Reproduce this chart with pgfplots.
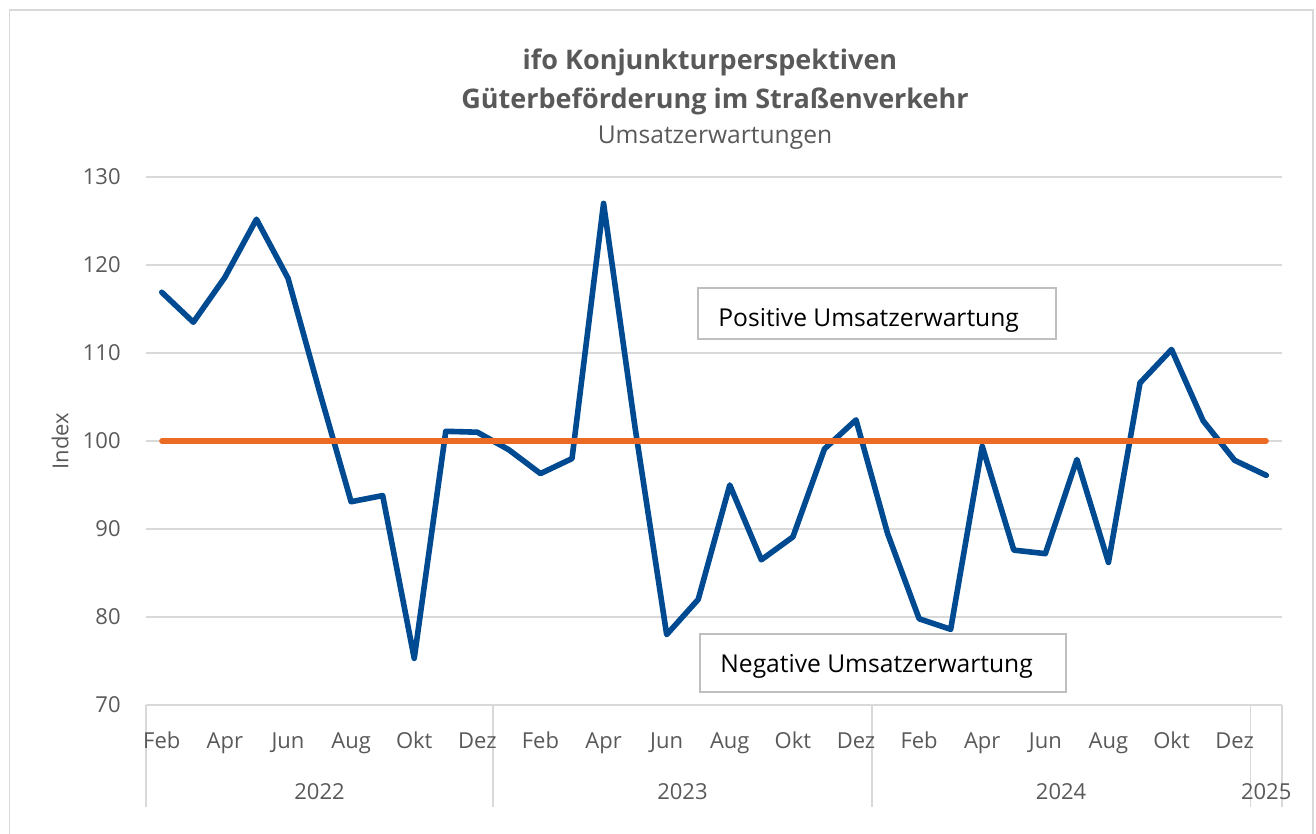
\documentclass[border=0pt]{standalone}
\usepackage{pgfplots}
\pgfplotsset{compat=1.18}
\usepackage{pgfplotstable}
\usepackage{fontspec}
\setmainfont{Open Sans}
\definecolor{lineblue}{HTML}{004A91}
\definecolor{lineorange}{HTML}{EB6B25}
\definecolor{gridgray}{HTML}{D9D9D9}
\definecolor{textgray}{HTML}{595959}
\definecolor{boxgray}{HTML}{BFBFBF}
\pgfplotstableread{
x y
0 116.9
1 113.5
2 118.6
3 125.2
4 118.5
5 105.6
6 93.1
7 93.8
8 75.3
9 101.1
10 101.0
11 99.0
12 96.3
13 98.0
14 127.0
15 101.5
16 78.0
17 82.0
18 95.0
19 86.5
20 89.1
21 99.1
22 102.4
23 89.5
24 79.8
25 78.6
26 99.4
27 87.6
28 87.2
29 97.9
30 86.2
31 106.6
32 110.4
33 102.3
34 97.8
35 96.1
}\idx
\begin{document}
\begin{tikzpicture}
\path[use as bounding box] (0,0) rectangle (658pt,417pt);
\draw[gridgray, line width=0.75pt] (4.75pt,-5pt) rectangle (656.5pt,412pt);
% category group separators below the axis (drawn first, under the labels)
\draw[gridgray, line width=0.75pt] (73pt,64.5pt) -- (73pt,13.5pt);
\draw[gridgray, line width=0.75pt] (246.56pt,64.5pt) -- (246.56pt,13.5pt);
\draw[gridgray, line width=0.75pt] (435.89pt,64.5pt) -- (435.89pt,13.5pt);
\draw[gridgray, line width=0.75pt] (625.22pt,64.5pt) -- (625.22pt,13.5pt);
\draw[gridgray, line width=0.75pt] (641pt,64.5pt) -- (641pt,13.5pt);
\begin{axis}[
  at={(73pt,64.5pt)}, anchor=south west,
  scale only axis, width=568pt, height=264pt,
  xmin=-0.5, xmax=35.5, ymin=70, ymax=130,
  ytick={70,80,...,130},
  xtick={0,2,...,34},
  xticklabels={Feb,Apr,Jun,Aug,Okt,Dez,Feb,Apr,Jun,Aug,Okt,Dez,Feb,Apr,Jun,Aug,Okt,Dez},
  axis x line*=bottom, axis y line*=left,
  x axis line style={draw=gridgray, line width=0.75pt, -},
  y axis line style={draw=none, -},
  major tick length=0pt,
  ymajorgrids, grid style={gridgray, line width=0.75pt},
  tick label style={font=\fontsize{11}{13}\selectfont, text=textgray},
  xticklabel style={anchor=base, yshift=-22pt},
  yticklabel style={anchor=east, inner sep=0pt, xshift=-12.5pt},
  /pgf/number format/assume math mode=true,
  clip=false,
]
\addplot[lineblue, line width=2.8pt, line cap=round, line join=round, mark=none] table[x=x, y=y] {\idx};
\addplot[lineorange, line width=2.6pt, line cap=round, mark=none] coordinates {(0,100) (35,100)};
\node[anchor=base, font=\fontsize{11}{13}\selectfont, text=textgray, yshift=-47.5pt] at (axis cs:5,70) {2022};
\node[anchor=base, font=\fontsize{11}{13}\selectfont, text=textgray, yshift=-47.5pt] at (axis cs:16.5,70) {2023};
\node[anchor=base, font=\fontsize{11}{13}\selectfont, text=textgray, yshift=-47.5pt] at (axis cs:28.5,70) {2024};
\node[anchor=base, font=\fontsize{11}{13}\selectfont, text=textgray, yshift=-47.5pt] at (axis cs:35,70) {2025};
\end{axis}
% titles
\node[anchor=base, font=\bfseries\fontsize{13.5}{16}\selectfont, text=textgray] at (355pt,382.35pt) {ifo Konjunkturperspektiven};
\node[anchor=base, font=\bfseries\fontsize{13.5}{16}\selectfont, text=textgray] at (357.5pt,362.85pt) {Güterbeförderung im Straßenverkehr};
\node[anchor=base, font=\fontsize{12.3}{14}\selectfont, text=textgray] at (357.5pt,345pt) {Umsatzerwartungen};
% y label
\node[rotate=90, font=\fontsize{11}{13}\selectfont, text=textgray] at (30pt,196.5pt) {Index};
% annotation boxes
\draw[boxgray, line width=0.8pt, fill=white] (349pt,247.5pt) rectangle (528pt,273pt);
\node[anchor=base west, inner sep=0pt, font=\fontsize{12.3}{14}\selectfont, text=black] at (359pt,253.65pt) {Positive Umsatzerwartung};
\draw[boxgray, line width=0.8pt, fill=white] (350pt,71pt) rectangle (533pt,100pt);
\node[anchor=base west, inner sep=0pt, font=\fontsize{12.3}{14}\selectfont, text=black] at (360pt,80.5pt) {Negative Umsatzerwartung};
\end{tikzpicture}
\end{document}
